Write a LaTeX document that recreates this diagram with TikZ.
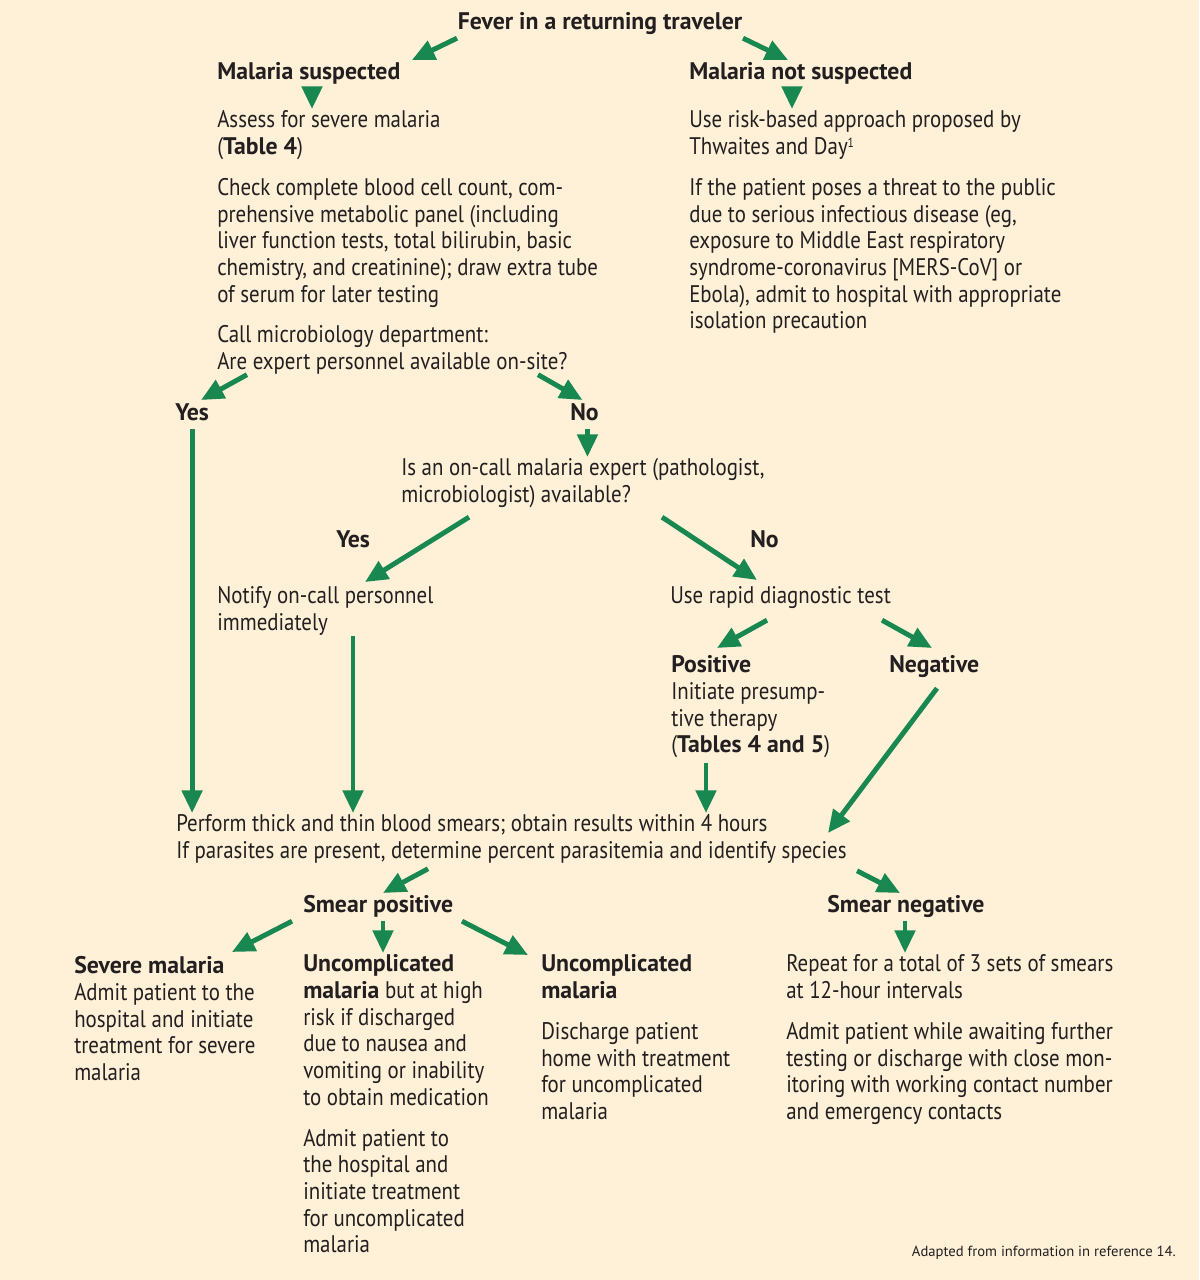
\documentclass[tikz,border=0pt]{standalone}
\usepackage{fontspec}
\setmainfont{PT Sans}[UprightFeatures={FakeStretch=0.87},BoldFeatures={FakeStretch=0.99}]
\newfontfamily\notefont{PT Sans}
\usepackage{tikz}
\usetikzlibrary{arrows.meta,positioning,calc}

\definecolor{bgcream}{RGB}{254,241,216}
\definecolor{arrowgreen}{RGB}{24,135,80}
\definecolor{inkblack}{RGB}{35,31,32}

\begin{document}
\begin{tikzpicture}[x=0.75pt,y=-0.75pt,
    txt/.style={anchor=north west, inner sep=0pt, align=left, text=inkblack,
      font=\fontsize{18}{20}\selectfont},
    hd/.style={txt, font=\fontsize{18}{20}\selectfont\bfseries},
    arr/.style={draw=arrowgreen, line width=3.7pt,
      -{Triangle[length=17pt,width=15pt]}}]
  \fill[bgcream] (0,0) rectangle (1199,1280);
  \useasboundingbox (0,0) rectangle (1199,1280);

  % top of the chart
  \node[hd, anchor=north] (fever) at (600,11) {\strut Fever in a returning traveler};
  \node[hd] (msusp) at (217,61) {\strut Malaria suspected};
  \node[hd] (mnot) at (689,61) {\strut Malaria not suspected};
  \node[txt] (assess) at (217,109) {\strut Assess for severe malaria\\
    (\textbf{Table 4})\\[10.7pt]
    Check complete blood cell count, com-\\
    prehensive metabolic panel (including\\
    liver function tests, total bilirubin, basic\\
    chemistry, and creatinine); draw extra tube\\
    of serum for later testing};
  \node[txt] (call) at (217,324) {\strut Call microbiology department:\\
    Are expert personnel available on-site?};
  \node[txt] (risk) at (689,109) {\strut Use risk-based approach proposed by\\
    Thwaites and Day{\fontsize{10}{10}\selectfont\raisebox{5.5pt}{1}}\\[10.7pt]
    If the patient poses a threat to the public\\
    due to serious infectious disease (eg,\\
    exposure to Middle East respiratory\\
    syndrome-coronavirus [MERS-CoV] or\\
    Ebola), admit to hospital with appropriate\\
    isolation precaution};

  % expert on site?
  \node[hd] (yes1) at (175,402) {\strut Yes};
  \node[hd] (no1) at (570,402) {\strut No};
  \node[txt] (oncall) at (401,457) {\strut Is an on-call malaria expert (pathologist,\\
    microbiologist) available?};
  \node[hd] (yes2) at (336,529) {\strut Yes};
  \node[hd] (no2) at (750,529) {\strut No};
  \node[txt] (notify) at (217,585) {\strut Notify on-call personnel\\immediately};
  \node[txt] (rdt) at (670,585) {\strut Use rapid diagnostic test};
  \node[txt] (pos) at (671,654) {\strut\textbf{Positive}\\
    Initiate presump-\\
    tive therapy\\
    (\textbf{Tables 4 and 5})};
  \node[hd] (neg) at (889,654) {\strut Negative};

  % smears
  \node[txt] (smears) at (176,813) {\strut Perform thick and thin blood smears; obtain results within 4 hours\\
    If parasites are present, determine percent parasitemia and identify species};
  \node[hd] (spos) at (303,894) {\strut Smear positive};
  \node[hd] (sneg) at (827,894) {\strut Smear negative};
  \node[txt] (severe) at (74,955) {\strut\textbf{Severe malaria}\\
    Admit patient to the\\
    hospital and initiate\\
    treatment for severe\\
    malaria};
  \node[txt] (uncomphr) at (303,953) {\strut\textbf{Uncomplicated}\\
    \textbf{malaria} but at high\\
    risk if discharged\\
    due to nausea and\\
    vomiting or inability\\
    to obtain medication\\[10.7pt]
    Admit patient to\\
    the hospital and\\
    initiate treatment\\
    for uncomplicated\\
    malaria};
  \node[txt] (uncomp) at (541,953) {\strut\textbf{Uncomplicated}\\
    \textbf{malaria}\\[10.7pt]
    Discharge patient\\
    home with treatment\\
    for uncomplicated\\
    malaria};
  \node[txt] (repeat) at (786,953) {\strut Repeat for a total of 3 sets of smears\\
    at 12-hour intervals\\[10.7pt]
    Admit patient while awaiting further\\
    testing or discharge with close mon-\\
    itoring with working contact number\\
    and emergency contacts};
  \node[anchor=base east, inner sep=0pt, text=inkblack, font=\notefont\fontsize{11}{13}\selectfont]
    (source) at (1176,1256) {Adapted from information in reference 14.};

  % arrows
  \draw[arr] ([shift={(-143,0)}]fever.south) -- ([shift={(195,-1)}]msusp.north west);
  \draw[arr] ([shift={(143,0)}]fever.south) -- ([shift={(99,-1)}]mnot.north west);
  \draw[arr] ([shift={(95,0)}]msusp.south west) -- ([shift={(95,0)}]msusp.south west |- assess.north);
  \draw[arr] ([shift={(103,0)}]mnot.south west) -- ([shift={(103,0)}]mnot.south west |- risk.north);
  \draw[arr] ([shift={(30,0)}]call.south west) -- ([shift={(9,-2)}]yes1.north);
  \draw[arr] ([shift={(321,0)}]call.south west) -- ([shift={(-2,-2)}]no1.north);
  \draw[arr] (yes1.south) -- (yes1.south |- smears.north);
  \draw[arr] ([shift={(3,0)}]no1.south) -- ([shift={(3,0)}]no1.south |- oncall.north);
  \draw[arr] ([shift={(68,9)}]oncall.south west) -- ([shift={(148,-3)}]notify.north west);
  \draw[arr] ([shift={(261,9)}]oncall.south west) -- ([shift={(87,-5)}]rdt.north west);
  \draw[arr] ([shift={(136,0)}]notify.south west) -- ([shift={(136,0)}]notify.south west |- smears.north);
  \draw[arr] ([shift={(97,8)}]rdt.south west) -- ([shift={(46,-6)}]pos.north west);
  \draw[arr] ([shift={(212,8)}]rdt.south west) -- ([shift={(43,-6)}]neg.north west);
  \draw[arr] ([shift={(35,5)}]pos.south west) -- ([shift={(35,0)}]pos.south west |- smears.north);
  \draw[arr] ([shift={(48,7)}]neg.south west) -- ([shift={(652,20)}]smears.north west);
  \draw[arr] ([shift={(252,5)}]smears.south west) -- ([shift={(80,-1)}]spos.north west);
  \draw[arr] ([shift={(681,7)}]smears.south west) -- ([shift={(73,-1)}]sneg.north west);
  \draw[arr] ([shift={(-11,0)}]spos.south west) -- ([shift={(158,-3)}]severe.north west);
  \draw[arr] ([shift={(80,0)}]spos.south west) -- ([shift={(80,0)}]spos.south west |- uncomphr.north);
  \draw[arr] ([shift={(159,0)}]spos.south west) -- ([shift={(-13,2)}]uncomp.north west);
  \draw[arr] ([shift={(78,0)}]sneg.south west) -- ([shift={(78,0)}]sneg.south west |- repeat.north);
\end{tikzpicture}
\end{document}
